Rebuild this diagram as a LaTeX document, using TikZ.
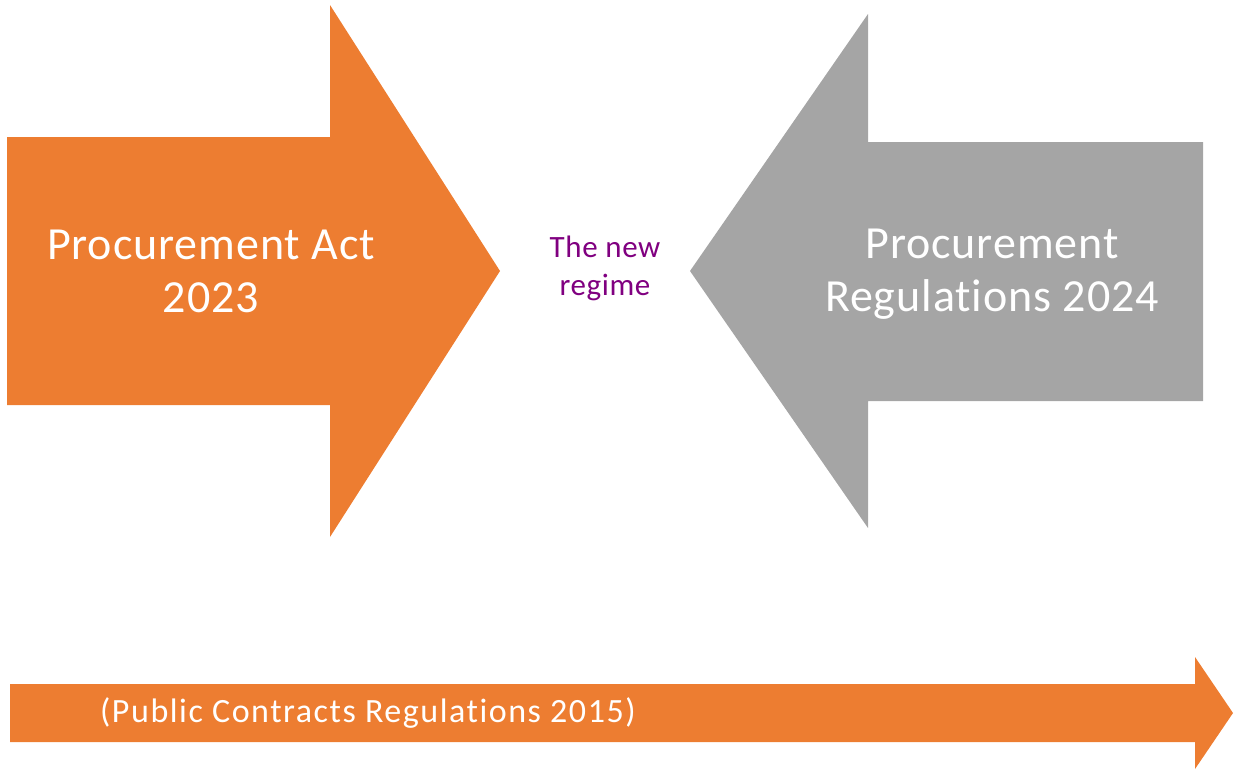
\documentclass[tikz,border=0pt]{standalone}
\usepackage{fontspec}
\setmainfont[Ligatures=NoCommon]{Carlito}
\newfontfamily\bigfont[Ligatures=NoCommon,LetterSpace=2]{Carlito}
\newfontfamily\lowfont[Ligatures=NoCommon,LetterSpace=4.5]{Carlito}
\definecolor{orangeA}{HTML}{ED7D31}
\definecolor{grayA}{HTML}{A5A5A5}
\definecolor{purpleA}{HTML}{800080}
\begin{document}
\begin{tikzpicture}[x=1pt,y=-1pt,
  bigtext/.style={text=white,align=center,font=\bigfont\fontsize{46}{53}\selectfont,inner sep=0pt},
  midtext/.style={text=purpleA,align=center,font=\bigfont\fontsize{31}{38}\selectfont,inner sep=0pt},
  lowtext/.style={text=white,font=\lowfont\fontsize{34}{38}\selectfont,inner sep=0pt,anchor=west}]
\useasboundingbox (0,0) rectangle (1235,769);
% left orange arrow
\fill[orangeA] (7,137) -- (330,137) -- (330,5) -- (500,271) -- (330,537) -- (330,405) -- (7,405) -- cycle;
% right gray arrow
\fill[grayA] (1203,142) -- (868,142) -- (868,14) -- (690,271) -- (868,528) -- (868,401) -- (1203,401) -- cycle;
% bottom orange arrow
\fill[orangeA] (10,684) -- (1195,684) -- (1195,657) -- (1233,713) -- (1195,769) -- (1195,742) -- (10,742) -- cycle;
\node[bigtext] (act) at (211,271) {Procurement Act\\2023};
\node[bigtext] (regs) at (992,274) {Procurement\\Regulations 2024};
\node[midtext] (mid) at (605,268) {The new\\regime};
\node[lowtext] (pcr) at (100,713) {(Public Contracts Regulations 2015)};
\end{tikzpicture}
\end{document}
